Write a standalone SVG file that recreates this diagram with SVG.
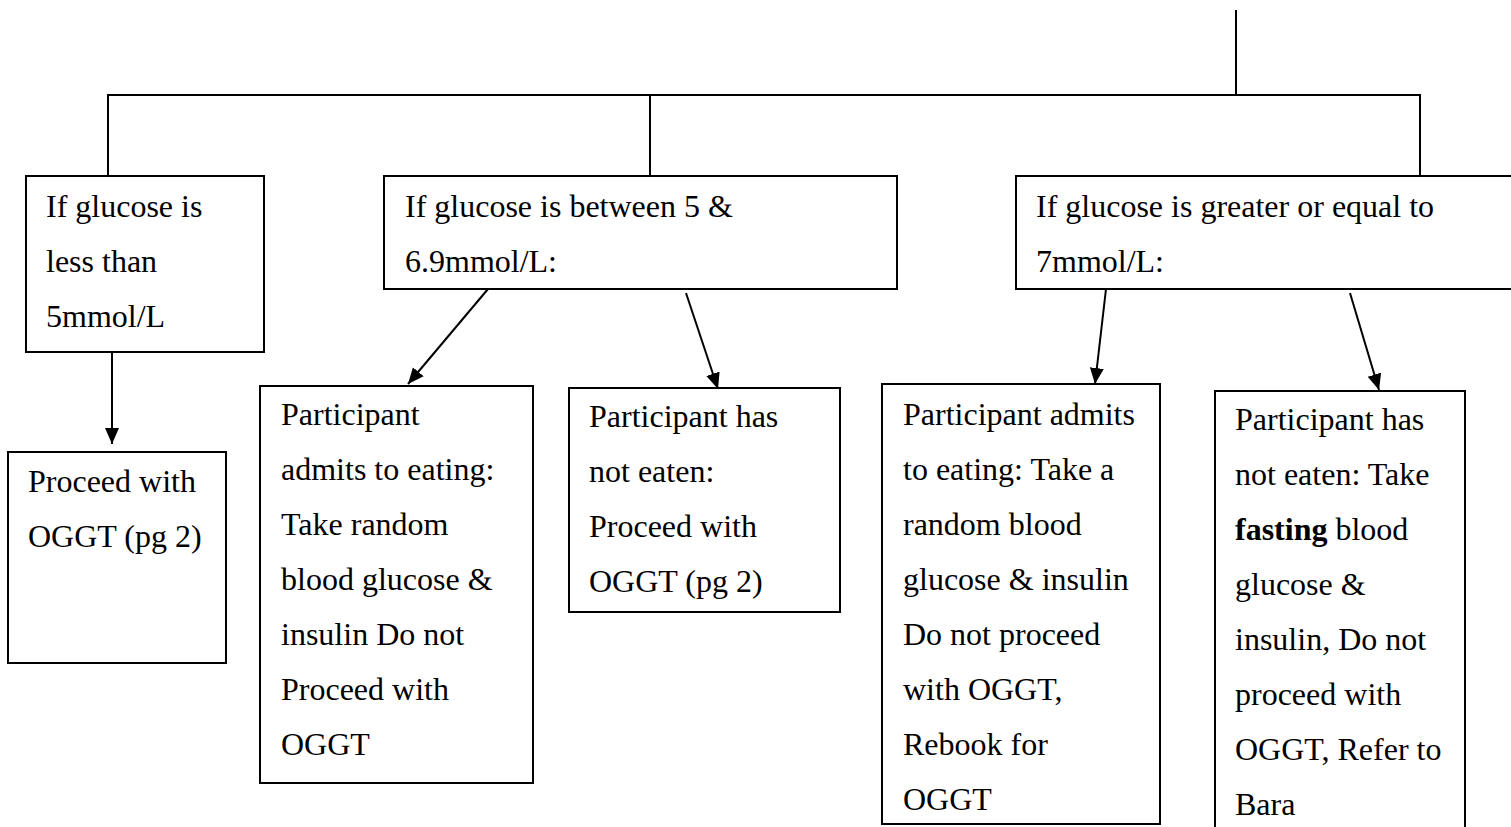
<svg xmlns="http://www.w3.org/2000/svg" width="1511" height="827" viewBox="0 0 1511 827">
  <style>
    .box { fill: #ffffff; stroke: #000000; stroke-width: 2; }
    .ln { fill: none; stroke: #000000; stroke-width: 2; }
    .t { font-family: "Liberation Serif", "Times New Roman", serif; font-size: 32px; fill: #000000; }
    .b { font-weight: bold; }
  </style>
  <defs>
    <marker id="arr" markerUnits="userSpaceOnUse" markerWidth="16" markerHeight="16" viewBox="0 0 16 16" refX="16" refY="8" orient="auto">
      <path d="M0,1 L16,8 L0,15 Z" fill="#000000"/>
    </marker>
  </defs>
  <rect width="1511" height="827" fill="#ffffff"/>

  <!-- connectors -->
  <g id="connectors">
    <line class="ln" x1="1236" y1="10" x2="1236" y2="95"/>
    <line class="ln" x1="107" y1="95" x2="1421" y2="95"/>
    <line class="ln" x1="108" y1="95" x2="108" y2="176"/>
    <line class="ln" x1="650" y1="95" x2="650" y2="176"/>
    <line class="ln" x1="1420" y1="95" x2="1420" y2="176"/>
    <line class="ln" x1="112" y1="347" x2="112" y2="444" marker-end="url(#arr)"/>
    <line class="ln" x1="488" y1="289" x2="408" y2="384" marker-end="url(#arr)"/>
    <line class="ln" x1="686" y1="293" x2="718" y2="389" marker-end="url(#arr)"/>
    <line class="ln" x1="1106" y1="289" x2="1095" y2="384" marker-end="url(#arr)"/>
    <line class="ln" x1="1350" y1="293" x2="1379" y2="390" marker-end="url(#arr)"/>
  </g>

  <!-- glucose below 5 -->
  <g id="low">
    <rect class="box" x="26" y="176" width="238" height="176"/>
    <text class="t" x="46" y="217">If glucose is</text>
    <text class="t" x="46" y="272">less than</text>
    <text class="t" x="46" y="327">5mmol/L</text>
  </g>

  <!-- glucose between 5 and 6.9 -->
  <g id="mid">
    <rect class="box" x="384" y="176" width="513" height="113"/>
    <text class="t" x="405" y="217">If glucose is between 5 &amp;</text>
    <text class="t" x="405" y="272">6.9mmol/L:</text>
  </g>

  <!-- glucose 7 or above -->
  <g id="high">
    <rect class="box" x="1016" y="176" width="500" height="113"/>
    <text class="t" x="1036" y="217">If glucose is greater or equal to</text>
    <text class="t" x="1036" y="272">7mmol/L:</text>
  </g>

  <!-- outcome: proceed -->
  <g id="low-ogtt">
    <rect class="box" x="8" y="452" width="218" height="211"/>
    <text class="t" x="28" y="492">Proceed with</text>
    <text class="t" x="28" y="547">OGGT (pg 2)</text>
  </g>

  <g id="mid-eaten">
    <rect class="box" x="260" y="386" width="273" height="397"/>
    <text class="t" x="281" y="425">Participant</text>
    <text class="t" x="281" y="480">admits to eating:</text>
    <text class="t" x="281" y="535">Take random</text>
    <text class="t" x="281" y="590">blood glucose &amp;</text>
    <text class="t" x="281" y="645">insulin Do not</text>
    <text class="t" x="281" y="700">Proceed with</text>
    <text class="t" x="281" y="755">OGGT</text>
  </g>

  <g id="mid-fasted">
    <rect class="box" x="569" y="388" width="271" height="224"/>
    <text class="t" x="589" y="427">Participant has</text>
    <text class="t" x="589" y="482">not eaten:</text>
    <text class="t" x="589" y="537">Proceed with</text>
    <text class="t" x="589" y="592">OGGT (pg 2)</text>
  </g>

  <g id="high-eaten">
    <rect class="box" x="882" y="384" width="278" height="440"/>
    <text class="t" x="903" y="425">Participant admits</text>
    <text class="t" x="903" y="480">to eating: Take a</text>
    <text class="t" x="903" y="535">random blood</text>
    <text class="t" x="903" y="590">glucose &amp; insulin</text>
    <text class="t" x="903" y="645">Do not proceed</text>
    <text class="t" x="903" y="700">with OGGT,</text>
    <text class="t" x="903" y="755">Rebook for</text>
    <text class="t" x="903" y="810">OGGT</text>
  </g>

  <g id="high-fasted">
    <rect class="box" x="1215" y="391" width="250" height="460"/>
    <text class="t" x="1235" y="430">Participant has</text>
    <text class="t" x="1235" y="485">not eaten: Take</text>
    <text class="t" x="1235" y="540"><tspan class="b">fasting</tspan> blood</text>
    <text class="t" x="1235" y="595">glucose &amp;</text>
    <text class="t" x="1235" y="650">insulin, Do not</text>
    <text class="t" x="1235" y="705">proceed with</text>
    <text class="t" x="1235" y="760">OGGT, Refer to</text>
    <text class="t" x="1235" y="815">Bara</text>
  </g>
</svg>
